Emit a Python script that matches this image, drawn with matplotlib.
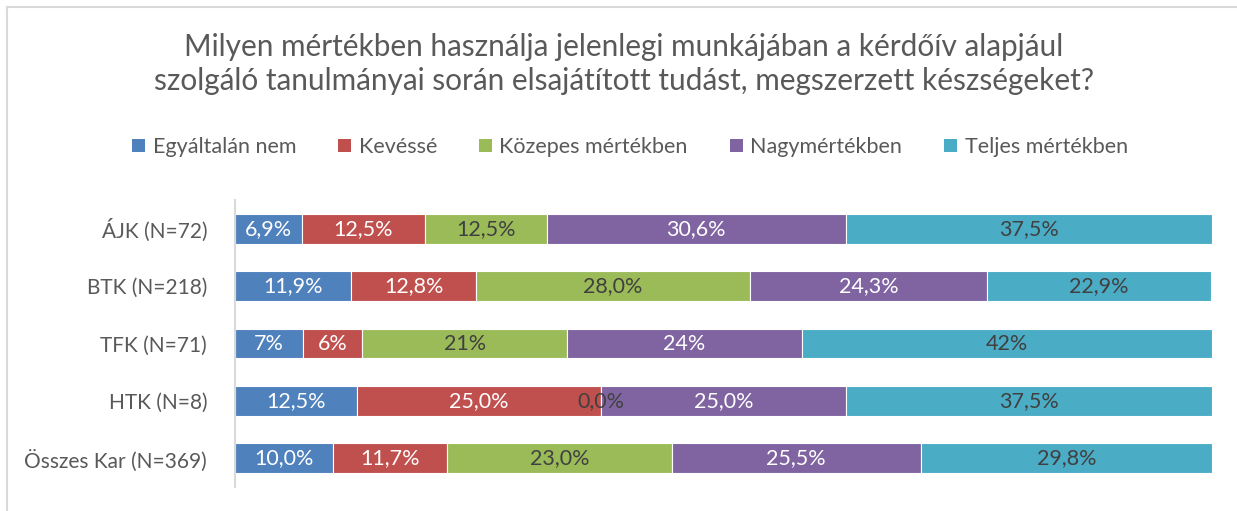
import matplotlib.pyplot as plt
from matplotlib.lines import Line2D
from matplotlib.patches import Patch

plt.rcParams["font.family"] = ["Lato", "DejaVu Sans"]

categories = ["ÁJK (N=72)", "BTK (N=218)", "TFK (N=71)", "HTK (N=8)", "Összes Kar (N=369)"]
series_names = ["Egyáltalán nem", "Kevéssé", "Közepes mértékben", "Nagymértékben", "Teljes mértékben"]
values = [
    [6.9, 11.9, 7, 12.5, 10.0],
    [12.5, 12.8, 6, 25.0, 11.7],
    [12.5, 28.0, 21, 0.0, 23.0],
    [30.6, 24.3, 24, 25.0, 25.5],
    [37.5, 22.9, 42, 37.5, 29.8],
]
# TFK labels are whole numbers in the source
labels = [
    ["6,9%", "11,9%", "7%", "12,5%", "10,0%"],
    ["12,5%", "12,8%", "6%", "25,0%", "11,7%"],
    ["12,5%", "28,0%", "21%", "0,0%", "23,0%"],
    ["30,6%", "24,3%", "24%", "25,0%", "25,5%"],
    ["37,5%", "22,9%", "42%", "37,5%", "29,8%"],
]
colors = ["#4F81BD", "#C0504D", "#9BBB59", "#8064A2", "#4BACC6"]
label_colors = ["white", "white", "#404040", "white", "#404040"]

fig = plt.figure(figsize=(12.37, 5.11), dpi=100)
ax = fig.add_axes([235 / 1237, 1 - 487 / 511, (1212 - 235) / 1237, 287 / 511])

ypos = list(range(len(categories)))
left = [0.0] * len(categories)
for i, name in enumerate(series_names):
    vals = values[i]
    ax.barh(ypos, vals, left=left, height=0.52, color=colors[i],
            edgecolor="white", linewidth=0.8, label=name)
    for j, v in enumerate(vals):
        # the 0,0% label in HTK falls on the red/purple boundary and is dark
        c = "#404040" if v == 0 else label_colors[i]
        ax.text(left[j] + v / 2, j, labels[i][j], ha="center", va="center",
                color=c, fontsize=15.5)
    left = [l + v for l, v in zip(left, vals)]

ax.set_ylim(len(categories) - 0.5, -0.5)
ax.set_xlim(0, 100)
ax.set_yticks(ypos)
ax.set_yticklabels(categories, fontsize=15, color="#595959")
ax.tick_params(axis="y", length=0, pad=20)
ax.set_xticks([])
for s in ["top", "right", "bottom"]:
    ax.spines[s].set_visible(False)
ax.spines["left"].set_color("#D9D9D9")
ax.spines["left"].set_linewidth(1.5)

fig.text(624 / 1237, 1 - 64 / 511,
         "Milyen mértékben használja jelenlegi munkájában a kérdőív alapjául\n"
         "szolgáló tanulmányai során elsajátított tudást, megszerzett készségeket?",
         ha="center", va="center", fontsize=21.4, color="#595959", linespacing=1.28)

handles = [Patch(facecolor=c, edgecolor="none") for c in colors]
fig.legend(handles, series_names, loc="center", bbox_to_anchor=(630 / 1237, 1 - 147 / 511),
           ncol=5, frameon=False, fontsize=15.5, labelcolor="#595959",
           handlelength=0.6, handleheight=0.6, handletextpad=0.35, columnspacing=1.95)

# chart border, only top and left edges visible in the crop
fig.add_artist(Line2D([7 / 1237, 1], [1 - 7 / 511] * 2, transform=fig.transFigure,
                      color="#D9D9D9", linewidth=1.5))
fig.add_artist(Line2D([7 / 1237] * 2, [0, 1 - 7 / 511], transform=fig.transFigure,
                      color="#D9D9D9", linewidth=1.5))

fig.savefig("out.png", dpi=100, facecolor="white")
